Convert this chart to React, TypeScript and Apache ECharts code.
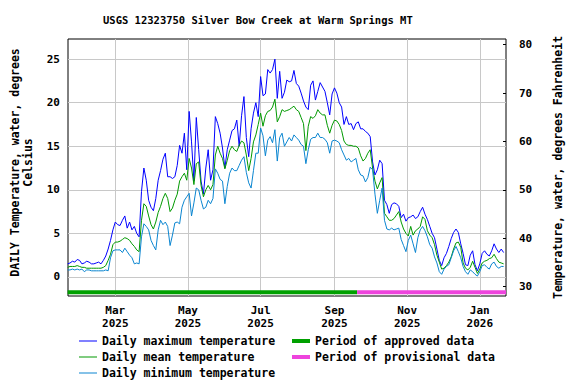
import React, { useEffect, useRef } from 'react';
import * as echarts from 'echarts';

// ---- data ----
const startDate = '2025-01-20';
const stepDays = 2;

const maxTemp = [
  1.5, 1.6, 1.8, 1.7, 2.0, 1.9, 1.5, 1.6, 1.8, 1.7,
  1.5, 1.5, 1.6, 1.7, 1.5, 1.9, 2.4, 3.2, 4.2, 5.4,
  6.3, 6.0, 5.9, 6.5, 7.0, 5.6, 6.3, 5.4, 5.8, 5.0,
  4.6, 9.8, 12.5, 11.1, 8.8, 8.0, 7.6, 9.0, 11.1, 12.2,
  13.5, 14.2, 11.5, 11.5, 11.3, 11.5, 12.8, 15.1, 14.2, 16.5,
  12.3, 19.0, 15.5, 11.0, 18.3, 14.6, 11.0, 9.5, 12.5, 14.6,
  11.1, 12.3, 18.4, 17.6, 16.5, 14.8, 12.5, 14.6, 15.7, 16.8,
  17.0, 18.0, 15.0, 18.5, 20.7, 16.0, 13.8, 17.0, 18.8, 20.0,
  18.4, 23.0, 20.8, 21.0, 23.8, 23.4, 23.8, 25.0, 20.5, 23.6,
  20.5, 21.2, 22.6, 22.4, 22.5, 23.7, 22.2, 21.9, 21.1, 20.2,
  19.5, 19.2, 22.0, 22.5, 20.3, 21.3, 22.3, 21.8, 21.3, 20.0,
  18.6, 21.0, 21.7, 21.1, 20.0, 19.5, 17.5, 18.4, 17.5, 17.6,
  16.9, 17.6, 17.8, 17.0, 17.0, 16.7, 16.5, 16.1, 13.2, 11.7,
  12.3, 13.4, 13.0, 8.8, 8.3, 7.3, 8.3, 8.5, 8.4, 8.1,
  6.8, 7.2, 6.4, 6.8, 6.9, 7.1, 6.7, 6.9, 7.5, 8.0,
  7.2, 6.6, 5.8, 5.0, 4.5, 3.2, 1.9, 1.3, 2.2, 2.7,
  3.5, 4.4, 5.1, 5.5, 5.1, 3.8, 2.7, 1.4, 1.3, 2.5,
  3.0, 1.4, 0.7, 1.5, 2.7, 3.0, 2.6, 2.4, 3.0, 3.8,
  3.2, 2.8, 3.2, 2.8,
];

const meanTemp = [
  1.1, 1.2, 1.2, 1.2, 1.3, 1.2, 1.1, 1.1, 1.0, 1.0,
  1.0, 1.0, 1.0, 1.0, 1.0, 1.1, 1.3, 1.9, 2.6, 3.7,
  4.0, 4.0, 4.1, 4.3, 4.5, 4.4, 4.2, 3.8, 3.5, 3.1,
  2.9, 6.5, 8.4, 8.1, 7.0, 6.0, 5.5, 6.3, 7.4, 8.1,
  9.0, 9.6, 9.0, 7.5, 7.9, 8.8, 9.5, 11.0, 11.5, 11.9,
  11.1, 13.6, 12.5, 10.6, 13.0, 13.2, 10.5, 9.2, 10.0, 10.5,
  10.0, 10.6, 14.0, 15.0, 14.2, 13.6, 12.4, 13.4, 14.5, 15.0,
  14.6, 14.4, 15.1, 15.6, 15.4, 14.0, 12.2, 13.6, 15.5, 16.3,
  17.5, 18.8, 17.3, 18.5, 19.0, 19.1, 19.5, 20.4, 17.8, 18.4,
  19.2, 19.0, 19.1, 19.2, 19.4, 19.6, 19.2, 19.0, 18.3, 17.6,
  14.5, 17.3, 18.4, 18.2, 18.5, 19.2, 18.8, 18.6, 18.6, 17.4,
  16.5, 17.4, 18.0, 17.9, 17.5, 16.8, 15.6, 15.2, 15.1, 15.1,
  15.0, 15.0, 14.8, 13.9, 13.3, 13.6, 14.2, 14.6, 12.5, 11.0,
  10.1, 10.8, 11.4, 7.3, 6.9, 6.5, 6.5, 6.7, 7.1, 7.5,
  6.3, 5.5, 5.0, 4.7, 5.8, 4.8, 5.3, 5.5, 5.8, 6.9,
  6.6, 5.3, 4.8, 4.5, 3.7, 2.5, 1.7, 0.9, 1.0, 1.3,
  1.7, 2.3, 3.2, 3.9, 4.0, 3.4, 1.6, 1.0, 0.8, 1.1,
  1.8, 1.1, 0.4, 0.9, 1.6, 1.8, 1.9, 2.1, 2.2, 2.6,
  2.1, 1.7, 1.6, 1.5,
];

const minTemp = [
  0.8, 0.8, 0.9, 0.8, 0.9, 0.8, 0.9, 0.6, 0.8, 0.8,
  0.7, 0.7, 0.7, 0.7, 0.7, 0.7, 0.8, 0.7, 2.2, 3.0,
  3.1, 3.1, 3.1, 2.8, 3.3, 2.9, 2.5, 2.2, 1.5, 1.6,
  1.5, 4.6, 6.1, 5.8, 5.4, 4.2, 3.6, 3.1, 5.4, 6.5,
  6.0, 6.3, 5.8, 3.6, 4.8, 6.2, 6.3, 6.1, 8.0, 8.8,
  9.2, 9.6, 7.0, 8.5, 10.2, 10.0, 8.8, 7.8, 8.0, 8.8,
  8.4, 9.0, 12.4, 11.9, 11.2, 11.0, 8.4, 10.4, 11.9, 12.5,
  12.2, 12.2, 12.8, 13.4, 13.8, 12.0, 10.8, 10.2, 12.2, 14.2,
  14.2, 17.1, 16.2, 13.9, 15.7, 16.1, 15.4, 16.9, 13.3, 16.0,
  16.5, 15.0, 15.5, 16.0, 15.6, 16.3, 16.0, 15.7, 15.2, 15.0,
  13.0, 14.6, 15.8, 16.0, 16.0, 16.5, 16.0, 16.0, 15.8, 15.4,
  14.2, 15.6, 15.7, 15.6, 15.4, 14.6, 14.0, 13.4, 13.6, 13.2,
  13.4, 13.6, 12.3, 11.7, 11.6, 10.9, 11.4, 12.6, 12.3, 9.5,
  7.3, 8.8, 10.2, 6.5, 5.5, 5.4, 5.6, 5.4, 5.5, 5.6,
  4.3, 3.6, 2.9, 4.2, 4.8, 3.8, 2.8, 4.5, 5.4, 5.8,
  5.3, 4.6, 3.7, 3.3, 2.3, 1.6, 0.6, 0.3, 0.9, 1.2,
  1.4, 2.2, 3.0, 3.5, 2.9, 2.2, 1.2, 0.6, 0.3, 0.8,
  0.6, 0.3, 0.1, 0.6, 1.3, 1.4, 1.1, 0.9, 1.5, 1.7,
  1.2, 1.0, 1.2, 1.2,
];

const monthTickDates = ['2025-03-01', '2025-05-01', '2025-07-01', '2025-09-01', '2025-11-01', '2026-01-01'];
const monthTickLabels = ['Mar\n2025', 'May\n2025', 'Jul\n2025', 'Sep\n2025', 'Nov\n2025', 'Jan\n2026'];
const celsiusTicks = [0, 5, 10, 15, 20, 25];
const fahrenheitTicks = [30, 40, 50, 60, 70, 80];
const approvedPeriod = ['2025-01-20', '2025-09-20'];
const provisionalPeriod = ['2025-09-20', '2026-01-23'];

const dayOf = (s: string) =>
  (Date.parse(s + 'T00:00:00Z') - Date.parse(startDate + 'T00:00:00Z')) / 86400000;

const FONT = 'DejaVu Sans Mono';

export default function App() {
  const ref = useRef<HTMLDivElement>(null);

  useEffect(() => {
    if (!ref.current) return;
    const chart = echarts.init(ref.current, undefined, { renderer: 'svg' });

    const monthDays = monthTickDates.map(dayOf);
    const toXY = (arr: number[]) => arr.map((v, i) => [i * stepDays, v]);
    const cMin = -2.19;
    const cMax = 27.31;
    const barLevel = -1.76;
    const txt = { fontFamily: FONT, fontWeight: 'bold' as const, color: '#000' };

    const lineSeries = (name: string, data: number[], color: string) => ({
      name,
      type: 'line',
      data: toXY(data),
      showSymbol: false,
      symbol: 'none',
      lineStyle: { color, width: 1 },
      itemStyle: { color },
      emphasis: { disabled: true },
      xAxisIndex: 0,
      yAxisIndex: 0,
    });
    const periodSeries = (name: string, period: string[], color: string) => ({
      name,
      type: 'line',
      data: period.map((d) => [dayOf(d), barLevel]),
      showSymbol: false,
      symbol: 'none',
      lineStyle: { color, width: 4, cap: 'butt' },
      itemStyle: { color },
      emphasis: { disabled: true },
      xAxisIndex: 0,
      yAxisIndex: 0,
    });

    const option: any = {
      animation: false,
      backgroundColor: '#ffffff',
      title: {
        text: 'USGS 12323750 Silver Bow Creek at Warm Springs MT',
        left: 103,
        top: 14,
        padding: 0,
        textStyle: { ...txt, fontSize: 10.5 },
      },
      grid: {
        left: 64,
        right: 70,
        top: 39,
        bottom: 88,
        show: true,
        borderColor: '#000',
        borderWidth: 1,
        backgroundColor: 'transparent',
      },
      legend: [
        {
          data: ['Daily maximum temperature', 'Daily mean temperature', 'Daily minimum temperature'],
          orient: 'vertical',
          left: 79,
          top: 334,
          padding: 0,
          itemGap: 2,
          itemWidth: 18,
          itemHeight: 1,
          icon: 'rect',
          selectedMode: false,
          textStyle: { ...txt, fontSize: 11.5, lineHeight: 14 },
        },
        {
          data: ['Period of approved data', 'Period of provisional data'],
          orient: 'vertical',
          left: 292,
          top: 334,
          padding: 0,
          itemGap: 2,
          itemWidth: 18,
          itemHeight: 4,
          icon: 'rect',
          selectedMode: false,
          textStyle: { ...txt, fontSize: 11.5, lineHeight: 14 },
        },
      ],
      xAxis: {
        type: 'value',
        min: 0.3,
        max: 368,
        axisLine: { show: false },
        axisTick: { show: false, customValues: monthDays },
        axisLabel: {
          customValues: monthDays,
          formatter: (v: number) => {
            const i = monthDays.findIndex((d) => Math.abs(d - v) < 0.5);
            return i >= 0 ? monthTickLabels[i] : '';
          },
          margin: 8,
          ...txt,
          fontSize: 11,
          lineHeight: 13,
        },
        splitLine: { show: true, lineStyle: { color: '#c8c8c8', width: 1 } },
      },
      yAxis: [
        {
          type: 'value',
          position: 'left',
          min: cMin,
          max: cMax,
          name: 'DAILY Temperature, water, degrees\nCelsius',
          nameLocation: 'middle',
          nameRotate: 90,
          nameGap: 34,
          nameTextStyle: { ...txt, fontSize: 11.5, lineHeight: 13, padding: [0, 0, 0, 10] },
          axisLine: { show: false },
          axisTick: { show: false, customValues: celsiusTicks },
          axisLabel: { customValues: celsiusTicks, margin: 8, ...txt, fontSize: 11 },
          splitLine: { show: true, lineStyle: { color: '#c8c8c8', width: 1 } },
        },
        {
          type: 'value',
          position: 'right',
          min: cMin * 1.8 + 32,
          max: cMax * 1.8 + 32,
          name: 'Temperature, water, degrees Fahrenheit',
          nameLocation: 'middle',
          nameRotate: 90,
          nameGap: 46,
          nameTextStyle: { ...txt, fontSize: 11.5 },
          axisLine: { show: false },
          axisTick: {
            show: true,
            inside: true,
            length: 3,
            customValues: fahrenheitTicks,
            lineStyle: { color: '#000', width: 1 },
          },
          axisLabel: { customValues: fahrenheitTicks, margin: 13, ...txt, fontSize: 11 },
          splitLine: { show: false },
        },
      ],
      series: [
        lineSeries('Daily maximum temperature', maxTemp, '#0000ff'),
        lineSeries('Daily mean temperature', meanTemp, '#009900'),
        lineSeries('Daily minimum temperature', minTemp, '#0a85d0'),
        periodSeries('Period of approved data', approvedPeriod, '#00a000'),
        periodSeries('Period of provisional data', provisionalPeriod, '#ee44dd'),
      ],
    };

    chart.setOption(option);
    return () => chart.dispose();
  }, []);

  return (
    <div
      ref={ref}
      style={{ position: 'fixed', left: 0, top: 0, width: 576, height: 384, background: '#fff' }}
    />
  );
}
